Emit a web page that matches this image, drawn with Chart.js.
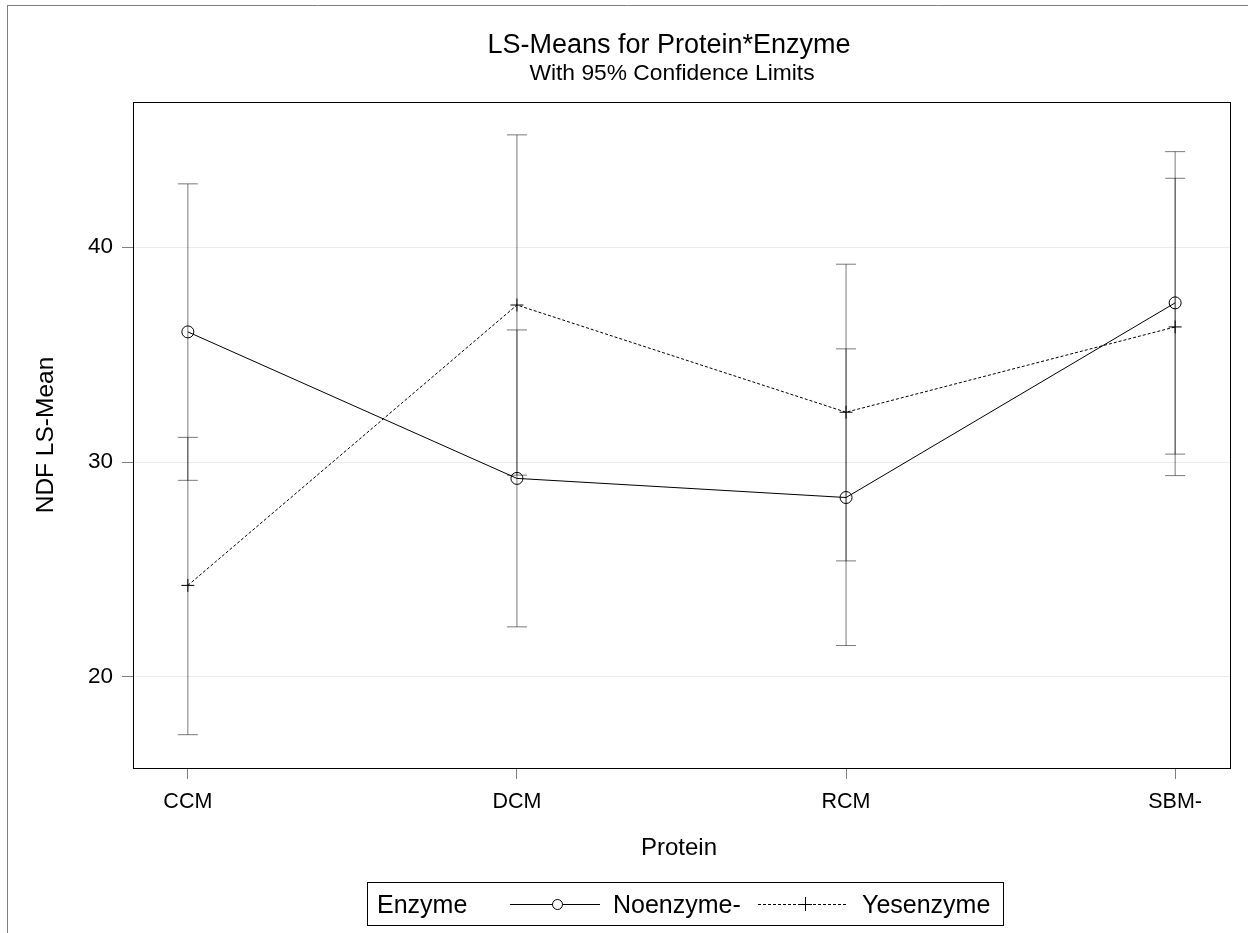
<!DOCTYPE html>
<html>
<head>
<meta charset="utf-8">
<script src="https://cdn.jsdelivr.net/npm/chart.js@4"></script>
<style>
  body { margin: 0; background: #fff; }
  #wrap { width: 1248px; height: 933px; position: relative; }
</style>
</head>
<body>
<div id="wrap"><canvas id="lsChart"></canvas></div>
<script>
// Data
const proteins = ['CCM', 'DCM', 'RCM', 'SBM-'];
const noMean = [36.06, 29.24, 28.35, 37.41];
const noLower = [29.15, 22.33, 21.46, 30.37];
const noUpper = [42.95, 36.15, 35.27, 44.45];
const yesMean = [24.26, 37.31, 32.32, 36.29];
const yesLower = [17.31, 29.39, 25.40, 29.37];
const yesUpper = [31.15, 45.23, 39.21, 43.21];
const yTicks = [20, 30, 40];

const FONT = "'Liberation Sans', Arial, sans-serif";
const BAR_COLOR = 'rgba(0, 0, 0, 0.52)';

// points for the error bars: lo, hi, gap
function barPoints(lo, hi) {
  const pts = [];
  lo.forEach((v, i) => {
    pts.push({ x: i, y: v }, { x: i, y: hi[i] }, { x: i + 0.5, y: null });
  });
  return pts;
}

function meanPoints(vals) {
  return vals.map((v, i) => ({ x: i, y: v }));
}

function errorBarSet(label, lo, hi) {
  return {
    label: label,
    data: barPoints(lo, hi),
    borderColor: BAR_COLOR,
    borderWidth: 1,
    pointStyle: 'line',
    pointRadius: 10,
    pointBorderColor: BAR_COLOR,
    pointBorderWidth: 1,
    spanGaps: false,
  };
}

// titles, frame and legend
const decor = {
  id: 'decor',
  afterDraw(chart) {
    const ctx = chart.ctx;
    const a = chart.chartArea;
    ctx.save();

    // outer page edges
    ctx.strokeStyle = '#808080';
    ctx.lineWidth = 1;
    ctx.beginPath();
    ctx.moveTo(7, 5.5);
    ctx.lineTo(1248, 5.5);
    ctx.moveTo(7.5, 5);
    ctx.lineTo(7.5, 933);
    ctx.stroke();

    // plot frame
    ctx.strokeStyle = '#000';
    ctx.strokeRect(Math.round(a.left) + 0.5, Math.round(a.top) + 0.5,
      Math.round(a.right - a.left), Math.round(a.bottom - a.top));

    // titles
    ctx.fillStyle = '#000';
    ctx.textAlign = 'center';
    ctx.textBaseline = 'alphabetic';
    ctx.font = '27px ' + FONT;
    ctx.fillText('LS-Means for Protein*Enzyme', 669, 53);
    ctx.font = '22.8px ' + FONT;
    ctx.fillText('With 95% Confidence Limits', 672, 80);

    // axis titles
    ctx.font = '24px ' + FONT;
    ctx.fillText('Protein', 679, 855);
    ctx.save();
    ctx.translate(53, (a.top + a.bottom) / 2);
    ctx.rotate(-Math.PI / 2);
    ctx.font = '24.5px ' + FONT;
    ctx.fillText('NDF LS-Mean', 0, 0);
    ctx.restore();

    // legend
    const ly = 904;
    ctx.strokeStyle = '#000';
    ctx.strokeRect(367.5, 882.5, 636, 43);
    ctx.textAlign = 'left';
    ctx.font = '25px ' + FONT;
    ctx.fillText('Enzyme', 377, 913);
    ctx.fillText('Noenzyme-', 613, 913);
    ctx.fillText('Yesenzyme', 862, 913);

    ctx.lineWidth = 1;
    ctx.beginPath();
    ctx.moveTo(510, ly + 0.5);
    ctx.lineTo(600, ly + 0.5);
    ctx.stroke();
    ctx.fillStyle = '#fff';
    ctx.beginPath();
    ctx.arc(557.5, ly + 0.5, 5, 0, Math.PI * 2);
    ctx.fill();
    ctx.stroke();

    ctx.setLineDash([3, 2]);
    ctx.beginPath();
    ctx.moveTo(758, ly + 0.5);
    ctx.lineTo(848, ly + 0.5);
    ctx.stroke();
    ctx.setLineDash([]);
    ctx.beginPath();
    ctx.moveTo(798, ly + 0.5);
    ctx.lineTo(812, ly + 0.5);
    ctx.moveTo(805.5, ly - 7);
    ctx.lineTo(805.5, ly + 7);
    ctx.stroke();

    ctx.restore();
  },
};

const config = {
  type: 'line',
  data: {
    datasets: [
      {
        label: 'Noenzyme-',
        data: meanPoints(noMean),
        borderColor: '#000',
        borderWidth: 1,
        pointStyle: 'circle',
        pointRadius: 6,
        pointBackgroundColor: 'rgba(0,0,0,0)',
        pointBorderColor: '#000',
        pointBorderWidth: 1,
      },
      {
        label: 'Yesenzyme',
        data: meanPoints(yesMean),
        borderColor: '#000',
        borderWidth: 1,
        borderDash: [3, 2],
        pointStyle: 'cross',
        pointRadius: 6.5,
        pointBorderColor: '#000',
        pointBorderWidth: 1,
      },
      errorBarSet('Noenzyme- CL', noLower, noUpper),
      errorBarSet('Yesenzyme CL', yesLower, yesUpper),
    ],
  },
  options: {
    responsive: true,
    maintainAspectRatio: false,
    animation: false,
    events: [],
    layout: { padding: { top: 102, right: 18, bottom: 0, left: 0 } },
    plugins: {
      legend: { display: false },
      title: { display: false },
      tooltip: { enabled: false },
    },
    scales: {
      x: {
        type: 'linear',
        min: -1 / 6,
        max: 3 + 1 / 6,
        afterBuildTicks(scale) {
          scale.ticks = proteins.map((p, i) => ({ value: i }));
        },
        afterFit(scale) {
          scale.height = 165;
        },
        border: { display: false },
        grid: {
          drawOnChartArea: false,
          drawTicks: true,
          tickLength: 11,
          tickColor: '#808080',
        },
        ticks: {
          autoSkip: false,
          maxRotation: 0,
          padding: 10,
          color: '#000',
          font: { family: FONT, size: 21.5 },
          callback: (v) => proteins[v],
        },
      },
      y: {
        min: 15.76,
        max: 46.76,
        afterBuildTicks(scale) {
          scale.ticks = yTicks.map((v) => ({ value: v }));
        },
        afterFit(scale) {
          scale.width = 133;
        },
        border: { display: false },
        grid: {
          color: '#ececec',
          drawTicks: true,
          tickLength: 11,
          tickColor: '#808080',
        },
        ticks: {
          padding: 9,
          color: '#000',
          font: { family: FONT, size: 22.5 },
        },
      },
    },
  },
  plugins: [decor],
};

const lsChart = new Chart(document.getElementById('lsChart'), config);
</script>
</body>
</html>
